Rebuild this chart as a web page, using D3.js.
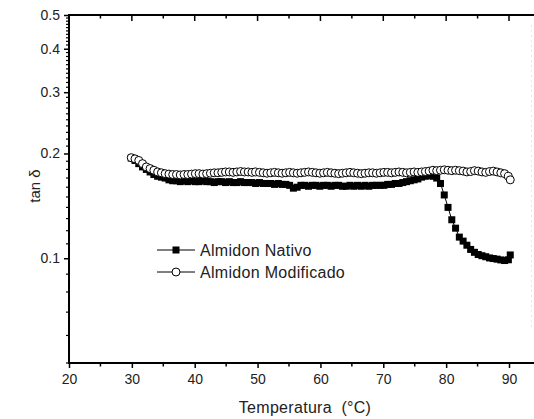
<!DOCTYPE html>
<html>
<head>
<meta charset="utf-8">
<script src="https://cdn.jsdelivr.net/npm/d3@7/dist/d3.min.js"></script>
<style>
  html, body { margin: 0; padding: 0; background: #fff; }
  svg { display: block; }
  text { font-family: "Liberation Sans", Arial, sans-serif; fill: #222; }
</style>
</head>
<body>
<script>
// Temperature sweep (°C) shared by both samples
const temperatures = [29.9,30.5,31.1,31.7,32.3,32.9,33.5,34.1,34.7,35.3,35.9,36.5,37.1,37.7,38.3,38.9,39.5,40.1,40.7,41.3,41.9,42.5,43.1,43.7,44.3,44.9,45.5,46.1,46.7,47.3,47.9,48.5,49.1,49.7,50.3,50.9,51.5,52.1,52.7,53.3,53.9,54.5,55.1,55.7,56.3,56.9,57.5,58.1,58.7,59.3,59.9,60.5,61.1,61.7,62.3,62.9,63.5,64.1,64.7,65.3,65.9,66.5,67.1,67.7,68.3,68.9,69.5,70.1,70.7,71.3,71.9,72.5,73.1,73.7,74.3,74.9,75.5,76.1,76.7,77.3,77.9,78.5,79.1,79.7,80.3,80.9,81.5,82.1,82.7,83.3,83.9,84.5,85.1,85.7,86.3,86.9,87.5,88.1,88.7,89.3,89.9,90.2];

// tan δ, native starch
const almidonNativo = [0.194,0.191,0.187,0.183,0.180,0.177,0.174,0.172,0.171,0.170,0.168,0.167,0.167,0.166,0.167,0.166,0.167,0.166,0.166,0.167,0.166,0.166,0.165,0.166,0.166,0.165,0.166,0.165,0.165,0.166,0.165,0.165,0.165,0.164,0.165,0.164,0.164,0.164,0.163,0.164,0.163,0.163,0.162,0.159,0.160,0.162,0.162,0.161,0.162,0.162,0.161,0.162,0.162,0.161,0.162,0.162,0.161,0.161,0.162,0.161,0.162,0.161,0.162,0.161,0.162,0.162,0.162,0.162,0.163,0.163,0.164,0.164,0.165,0.166,0.167,0.168,0.169,0.171,0.172,0.173,0.172,0.170,0.164,0.152,0.140,0.129,0.122,0.115,0.112,0.109,0.106,0.104,0.1025,0.1017,0.101,0.1002,0.0998,0.0994,0.0989,0.0985,0.099,0.1022];

// tan δ, modified starch
const almidonModificado = [0.1945,0.193,0.191,0.187,0.183,0.181,0.179,0.177,0.176,0.175,0.1745,0.174,0.174,0.1735,0.174,0.174,0.1745,0.175,0.175,0.1745,0.175,0.1755,0.176,0.176,0.1765,0.177,0.177,0.1765,0.177,0.1775,0.177,0.177,0.1765,0.177,0.1765,0.176,0.1755,0.176,0.1765,0.176,0.1755,0.176,0.1765,0.176,0.1755,0.176,0.1765,0.177,0.1765,0.176,0.1755,0.176,0.1765,0.176,0.1755,0.175,0.1755,0.176,0.1765,0.176,0.1755,0.175,0.1755,0.176,0.176,0.1755,0.176,0.1765,0.1765,0.176,0.1765,0.177,0.1765,0.176,0.1765,0.177,0.1765,0.177,0.1775,0.178,0.179,0.1785,0.179,0.1795,0.179,0.1785,0.179,0.1785,0.178,0.177,0.1775,0.1785,0.178,0.177,0.1765,0.1775,0.178,0.177,0.176,0.175,0.172,0.168];

const seriesNames = ["Almidon Nativo", "Almidon Modificado"];
const xTickValues = [20, 30, 40, 50, 60, 70, 80, 90];
const xMinorValues = [25, 35, 45, 55, 65, 75, 85];
const yTickValues = [0.1, 0.2, 0.3, 0.4, 0.5];
const xTitle = "Temperatura  (°C)";
const yTitle = "tan δ";

const W = 534, H = 419;
const mLeft = 69, mTop = 15, mBottom = 363;

const svg = d3.select("body").append("svg")
  .attr("width", W).attr("height", H);

const x = d3.scaleLinear().domain([20, 90]).range([mLeft, 509]);
const y = d3.scaleLog().domain([0.05, 0.5]).range([mBottom, mTop]);
const xEnd = W;

// minor log ticks every 0.01
const yMinorValues = d3.range(5, 51).map(d => d / 100).filter(v => !yTickValues.some(t => Math.abs(t - v) < 1e-9));

// bottom axis
const gx = svg.append("g").attr("transform", `translate(0,${mBottom})`);
gx.call(d3.axisBottom(x).tickValues(xTickValues).tickSize(5).tickPadding(6).tickFormat(d3.format("d")));
gx.select(".domain").remove();
gx.selectAll(".tick line").attr("stroke", "#000").attr("stroke-width", 1.5);
gx.selectAll(".tick text").style("font-size", "14px").attr("fill", "#222");
gx.selectAll(".minor").data(xMinorValues).enter().append("line")
  .attr("x1", d => x(d)).attr("x2", d => x(d)).attr("y1", 0).attr("y2", 3.5)
  .attr("stroke", "#000").attr("stroke-width", 1.5);

// top axis: inward ticks, no labels
const gt = svg.append("g").attr("transform", `translate(0,${mTop})`);
gt.selectAll(".maj").data(xTickValues.slice(1)).enter().append("line")
  .attr("x1", d => x(d)).attr("x2", d => x(d)).attr("y1", 0).attr("y2", 6)
  .attr("stroke", "#000").attr("stroke-width", 1.5);
gt.selectAll(".min").data(xMinorValues).enter().append("line")
  .attr("x1", d => x(d)).attr("x2", d => x(d)).attr("y1", 0).attr("y2", 3.5)
  .attr("stroke", "#000").attr("stroke-width", 1.5);

// left axis
const gy = svg.append("g").attr("transform", `translate(${mLeft},0)`);
gy.call(d3.axisLeft(y).tickValues(yTickValues).tickSize(5).tickPadding(4).tickFormat(d3.format(".1f")));
gy.select(".domain").remove();
gy.selectAll(".tick line").attr("stroke", "#000").attr("stroke-width", 1.5);
gy.selectAll(".tick text").style("font-size", "14px").attr("fill", "#222");
gy.selectAll(".minor").data(yMinorValues).enter().append("line")
  .attr("x1", 0).attr("x2", -3).attr("y1", d => y(d)).attr("y2", d => y(d))
  .attr("stroke", "#000").attr("stroke-width", 1.2);

// frame lines
svg.append("path")
  .attr("d", `M${xEnd},${mTop}H${mLeft}V${mBottom}H${xEnd}`)
  .attr("fill", "none").attr("stroke", "#000").attr("stroke-width", 2);

// faint edge line on the right
svg.append("line")
  .attr("x1", 531.5).attr("x2", 531.5).attr("y1", mTop + 10).attr("y2", 330)
  .attr("stroke", "#e8e8e8").attr("stroke-width", 1).attr("stroke-dasharray", "2,3");

// axis titles
svg.append("text").attr("x", 305).attr("y", 413)
  .attr("text-anchor", "middle").style("font-size", "16px").style("letter-spacing", "0.3px")
  .style("white-space", "pre").text(xTitle);
svg.append("text").attr("transform", "translate(40,186) rotate(-90)")
  .attr("text-anchor", "middle").style("font-size", "15px").text(yTitle);

// series
const line = d3.line().x(d => x(d[0])).y(d => y(d[1]));
const nativoPts = temperatures.map((t, i) => [t, almidonNativo[i]]);
const modPts = temperatures.map((t, i) => [t, almidonModificado[i]]);

const plot = svg.append("g");
plot.append("path").attr("d", line(nativoPts)).attr("fill", "none").attr("stroke", "#000").attr("stroke-width", 1);
plot.selectAll(".sq").data(nativoPts).enter().append("rect")
  .attr("x", d => x(d[0]) - 3.5).attr("y", d => y(d[1]) - 3.5)
  .attr("width", 7).attr("height", 7).attr("fill", "#000");

plot.append("path").attr("d", line(modPts)).attr("fill", "none").attr("stroke", "#000").attr("stroke-width", 1);
plot.selectAll(".ci").data(modPts).enter().append("circle")
  .attr("cx", d => x(d[0])).attr("cy", d => y(d[1])).attr("r", 4)
  .attr("fill", "#fff").attr("stroke", "#000").attr("stroke-width", 1);

// legend
const legend = svg.append("g");
const rows = [{ name: seriesNames[0], y: 250, mark: "square" }, { name: seriesNames[1], y: 272, mark: "circle" }];
rows.forEach(r => {
  legend.append("line").attr("x1", 157).attr("x2", 195).attr("y1", r.y).attr("y2", r.y)
    .attr("stroke", "#000").attr("stroke-width", 1);
  if (r.mark === "square") {
    legend.append("rect").attr("x", 176 - 3.5).attr("y", r.y - 3.5).attr("width", 7).attr("height", 7).attr("fill", "#000");
  } else {
    legend.append("circle").attr("cx", 176).attr("cy", r.y).attr("r", 4)
      .attr("fill", "#fff").attr("stroke", "#000").attr("stroke-width", 1);
  }
  legend.append("text").attr("x", 200).attr("y", r.y + 5.5).style("font-size", "16px")
    .style("letter-spacing", "0.3px").text(r.name);
});
</script>
</body>
</html>
